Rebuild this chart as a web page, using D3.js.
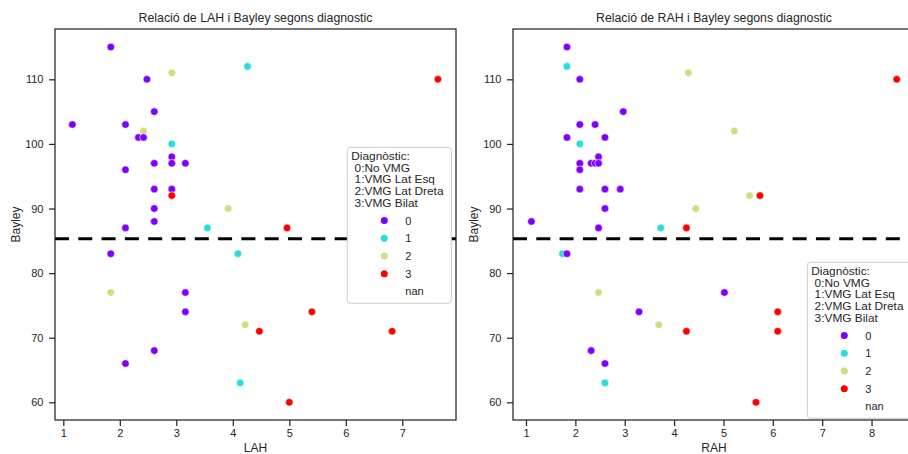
<!DOCTYPE html>
<html>
<head>
<meta charset="utf-8">
<script src="https://cdn.jsdelivr.net/npm/d3@7"></script>
<style>
  body { margin: 0; background: #fff; }
  text { font-family: "Liberation Sans", Arial, sans-serif; fill: #262626; }
</style>
</head>
<body>
<div id="chart"></div>
<script>
//********** data **********/
// [LAH, Bayley, diagnostic]
var lahPoints = [
  [2.92,111,2],[2.42,102,2],[3.92,90,2],[1.84,77,2],[4.22,72,2],
  [4.26,112,1],[2.92,100,1],[3.55,87,1],[4.09,83,1],[4.13,63,1],
  [1.84,115,0],[2.48,110,0],[2.61,105,0],[1.16,103,0],[2.10,103,0],[2.33,101,0],[2.42,101,0],
  [2.92,98,0],[2.61,97,0],[2.92,97,0],[3.16,97,0],[2.10,96,0],[2.61,93,0],[2.92,93,0],
  [2.61,90,0],[2.61,88,0],[2.10,87,0],[1.84,83,0],[3.16,77,0],[3.16,74,0],[2.61,68,0],[2.10,66,0],
  [7.63,110,3],[2.92,92,3],[4.96,87,3],[5.40,74,3],[4.47,71,3],[6.82,71,3],[5.00,60,3]
];
// [RAH, Bayley, diagnostic]
var rahPoints = [
  [4.29,111,2],[5.22,102,2],[5.53,92,2],[4.44,90,2],[2.47,77,2],[3.69,72,2],
  [1.83,112,1],[2.09,100,1],[3.73,87,1],[1.74,83,1],[2.60,63,1],
  [1.83,115,0],[2.09,110,0],[2.97,105,0],[2.09,103,0],[2.40,103,0],[1.83,101,0],[2.60,101,0],
  [2.47,98,0],[2.09,97,0],[2.32,97,0],[2.40,97,0],[2.47,97,0],[2.09,96,0],[2.09,93,0],
  [2.60,93,0],[2.91,93,0],[2.60,90,0],[1.11,88,0],[2.47,87,0],[1.83,83,0],[5.02,77,0],
  [3.29,74,0],[2.32,68,0],[2.60,66,0],
  [8.51,110,3],[5.74,92,3],[4.25,87,3],[6.10,74,3],[4.25,71,3],[6.10,71,3],[5.66,60,3]
];
var diagCodes = ["0", "1", "2", "3", "nan"];
var diagColors = ["#8000ff", "#2bdcdc", "#d4dc80", "#ff0000"];
var legendTitle = ["Diagnòstic:", " 0:No VMG", " 1:VMG Lat Esq", " 2:VMG Lat Dreta", " 3:VMG Bilat"];
var yTicks = [60, 70, 80, 90, 100, 110];
var lahTicks = [1, 2, 3, 4, 5, 6, 7];
var rahTicks = [1, 2, 3, 4, 5, 6, 7, 8];
var cutoff = 85.3;

//********** svg **********/
var W = 908, H = 454;
var svg = d3.select("#chart").append("svg")
  .attr("width", W).attr("height", H);

var y = d3.scaleLinear().domain([57.26, 117.79]).range([420, 29]);

var panels = [
  {pts: lahPoints, ticks: lahTicks, name: "LAH", dom: [0.853, 7.95], rng: [55, 456], legX: 347.3, legY: 147.3, ylabX: 16},
  {pts: rahPoints, ticks: rahTicks, name: "RAH", dom: [0.737, 8.88], rng: [513, 915], legX: 807.3, legY: 262.3, ylabX: 474}
];

panels.forEach(function(p) {
  var x = d3.scaleLinear().domain(p.dom).range(p.rng);
  var g = svg.append("g");
  var cx = (p.rng[0] + p.rng[1]) / 2;

  // axes
  var xa = g.append("g").attr("transform", "translate(0,420)")
    .call(d3.axisBottom(x).tickValues(p.ticks).tickSize(6).tickPadding(3.5).tickFormat(d3.format("d")));
  var ya = g.append("g").attr("transform", "translate(" + p.rng[0] + ",0)")
    .call(d3.axisLeft(y).tickValues(yTicks).tickSize(6).tickPadding(5.5));
  [xa, ya].forEach(function(a) {
    a.select(".domain").remove();
    a.selectAll("line").attr("stroke", "#262626").attr("stroke-width", 1.25);
    a.selectAll("text").attr("font-size", "11px").attr("fill", "#262626")
      .style("font-family", "'Liberation Sans', Arial, sans-serif");
  });

  // cutoff line
  g.append("line")
    .attr("x1", p.rng[0]).attr("x2", p.rng[1])
    .attr("y1", y(cutoff)).attr("y2", y(cutoff))
    .attr("stroke", "#000").attr("stroke-width", 3)
    .attr("stroke-dasharray", "14,9.3");

  // points
  g.selectAll("circle.pt").data(p.pts).enter().append("circle")
    .attr("class", "pt")
    .attr("cx", function(d) { return x(d[0]); })
    .attr("cy", function(d) { return y(d[1]); })
    .attr("r", 3.8)
    .attr("fill", function(d) { return diagColors[d[2]]; })
    .attr("stroke", "#fff").attr("stroke-width", 0.6);

  // frame
  g.append("rect")
    .attr("x", p.rng[0]).attr("y", 29)
    .attr("width", p.rng[1] - p.rng[0]).attr("height", 391)
    .attr("fill", "none").attr("stroke", "#262626").attr("stroke-width", 1.25);

  // titles and labels
  g.append("text").attr("x", cx).attr("y", 22).attr("text-anchor", "middle")
    .attr("font-size", "12.3px").text("Relació de " + p.name + " i Bayley segons diagnostic");
  g.append("text").attr("x", cx).attr("y", 452).attr("text-anchor", "middle")
    .attr("font-size", "12px").text(p.name);
  g.append("text").attr("transform", "translate(" + (p.ylabX + 4) + ",224.5) rotate(-90)")
    .attr("text-anchor", "middle").attr("font-size", "12px").text("Bayley");

  // legend
  var leg = g.append("g").attr("transform", "translate(" + p.legX + "," + p.legY + ")");
  leg.append("rect").attr("width", 104).attr("height", 156).attr("rx", 3)
    .attr("fill", "#fff").attr("stroke", "#cccccc").attr("stroke-width", 1);
  // title lines are tightly packed, slightly wide type
  leg.selectAll("text.tl").data(legendTitle).enter().append("text")
    .attr("class", "tl")
    .attr("transform", function(d, i) { return "translate(4," + (12.5 + i * 11.7) + ") scale(1.13,1)"; })
    .attr("font-size", "10.5px").style("white-space", "pre")
    .text(function(d) { return d; });
  var items = leg.selectAll("g.it").data(diagCodes).enter().append("g")
    .attr("class", "it")
    .attr("transform", function(d, i) { return "translate(0," + (73.3 + i * 17.7) + ")"; });
  items.filter(function(d, i) { return i < diagColors.length; }).append("circle")
    .attr("cx", 37).attr("r", 3.5)
    .attr("fill", function(d, i) { return diagColors[i]; });
  items.append("text").attr("x", 58).attr("dy", "0.36em")
    .attr("font-size", "11px").text(function(d) { return d; });
});
</script>
</body>
</html>
